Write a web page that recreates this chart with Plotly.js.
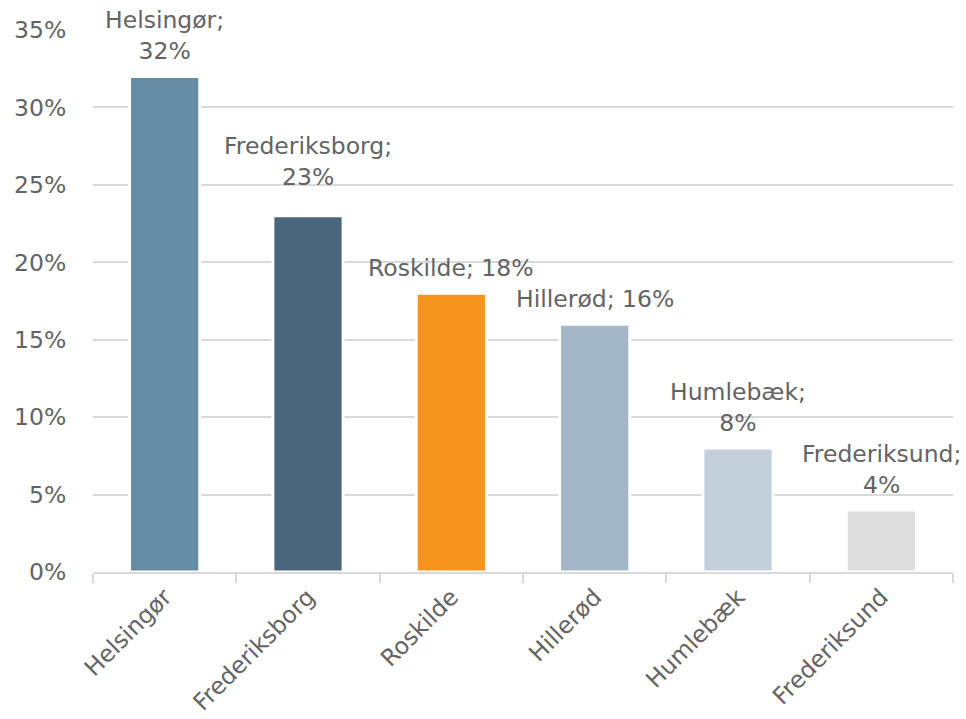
<!DOCTYPE html>
<html>
<head>
<meta charset="utf-8">
<script src="https://cdn.plot.ly/plotly-3.0.1.min.js"></script>
<style>html,body{margin:0;padding:0;background:#fff;}#chart{width:966px;height:719px;}</style>
</head>
<body>
<div id="chart"></div>
<script>
const categories = ["Helsingør", "Frederiksborg", "Roskilde", "Hillerød", "Humlebæk", "Frederiksund"];
const values = [32, 23, 18, 16, 8, 4];
const colors = ["#658BA5", "#49667D", "#F7941D", "#A3B7C9", "#C3D0DC", "#DDDDDD"];
const labelBreaks = [true, true, false, false, true, true];
const yTickVals = [0, 5, 10, 15, 20, 25, 30, 35];

const textColor = "#636363";
const fontFamily = "DejaVu Sans, Verdana, sans-serif";
const extraShift = [0, 14, 0, 0, 0, 0];

const annotations = categories.map((c, i) => ({
  x: c,
  y: values[i],
  xref: "x",
  yref: "y",
  text: c + ";" + (labelBreaks[i] ? "<br>" : " ") + values[i] + "%",
  showarrow: false,
  yanchor: "bottom",
  xanchor: "center",
  align: "center",
  yshift: 9 + extraShift[i],
  font: {family: fontFamily, size: 23.5, color: textColor}
}));

const trace = {
  type: "bar",
  x: categories,
  y: values,
  marker: {color: colors, line: {color: "#ffffff", width: 3}},
  hoverinfo: "skip"
};

const layout = {
  width: 966,
  height: 719,
  margin: {l: 93, r: 13, t: 30, b: 147, autoexpand: false},
  paper_bgcolor: "#ffffff",
  plot_bgcolor: "#ffffff",
  showlegend: false,
  bargap: 0.51,
  font: {family: fontFamily, size: 23.5, color: textColor},
  xaxis: {
    type: "category",
    range: [-0.5, categories.length - 0.5],
    autorange: false,
    automargin: false,
    tickangle: -45,
    showline: true,
    linecolor: "#D9D9D9",
    linewidth: 2,
    ticks: "outside",
    tickson: "boundaries",
    ticklen: 9,
    tickwidth: 2,
    tickcolor: "#D9D9D9",
    showgrid: false,
    tickfont: {family: fontFamily, size: 23.5, color: textColor}
  },
  yaxis: {
    range: [0, 35],
    autorange: false,
    automargin: false,
    tickvals: yTickVals,
    ticktext: yTickVals.map(v => v + "%"),
    showgrid: true,
    gridcolor: "#D9D9D9",
    gridwidth: 2,
    zeroline: false,
    showline: false,
    ticks: "outside",
    ticklen: 21,
    tickcolor: "rgba(0,0,0,0)",
    tickfont: {family: fontFamily, size: 23.5, color: textColor}
  },
  annotations: annotations
};

Plotly.newPlot("chart", [trace], layout, {displayModeBar: false, staticPlot: true});
</script>
</body>
</html>
